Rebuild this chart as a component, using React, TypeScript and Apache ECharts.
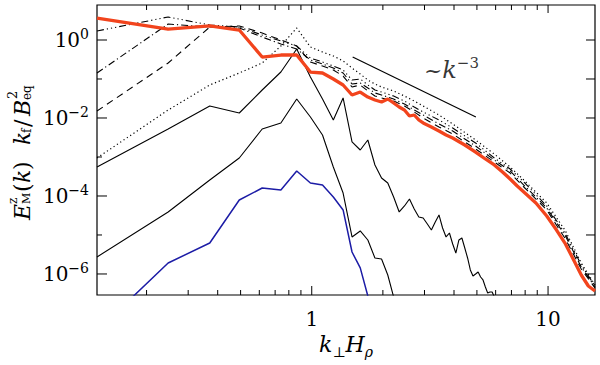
import { useEffect, useRef } from 'react';
import * as echarts from 'echarts';

// wavenumbers k_perp H_rho (modes 1..49, then 52..128)
const K = [
  0.1234, 0.2468, 0.3702, 0.4936, 0.617, 0.7404, 0.8638, 0.9872, 1.1106, 1.234,
  1.3574, 1.4808, 1.6042, 1.7276, 1.851, 1.9744, 2.0978, 2.2212, 2.3446, 2.468,
  2.5914, 2.7148, 2.8382, 2.9616, 3.085, 3.2084, 3.3318, 3.4552, 3.5786, 3.702,
  3.8254, 3.9488, 4.0722, 4.1956, 4.319, 4.4424, 4.5658, 4.6892, 4.8126, 4.936,
  5.0594, 5.1828, 5.3062, 5.4296, 5.553, 5.6764, 5.7998, 5.9232, 6.0466,
  6.4168, 6.9104, 7.404, 7.8976, 8.8848, 9.872, 10.8592, 11.8464, 12.8336, 13.8208, 14.808, 15.7952,
];

const E_RED = [
  3.66, 1.91, 2.29, 1.80, 0.366, 0.412, 0.412, 0.151, 0.1426, 0.100,
  0.0702, 0.0389, 0.0464, 0.0345, 0.0290, 0.0257, 0.0307, 0.0243, 0.0191, 0.0160,
  0.01125, 0.01194, 0.00889, 0.00745, null, 0.00588, null, 0.00464, null, 0.00366,
  null, 0.00307, null, null, null, 0.00203, null, null, null, 0.00134,
  null, null, null, 0.000889, null, null, null, 0.000624, null,
  0.000412, 0.000273, 0.000180, 0.000127, 6.62e-5, 3.07e-5, 1.34e-5, 5.88e-6, 2.29e-6, 9.42e-7, 4.92e-7, 3.66e-7,
];

const E_DOTTED = [
  9.42e-4, 0.0160, 0.0702, 0.1426, 0.257, 0.702, 2.03, 0.662, 0.492, 0.389,
  0.290, 0.191, 0.134, 0.0942, 0.0744, 0.0624, null, 0.0492, null, 0.0366,
  null, 0.0273, null, 0.0203, null, null, null, 0.01194, null, null,
  null, 0.00702, null, null, null, null, null, null, null, 0.00273,
  null, null, null, null, null, null, null, 0.00119, null,
  null, 5.54e-4, null, 2.57e-4, null, 6.62e-5, null, 1.27e-5, null, 1.91e-6, null, 5.22e-7,
];

const E_DASH3DOT = [
  1.70, 3.89, 2.43, 2.15, 1.34, 0.943, 0.702, 0.345, 0.273, 0.215,
  0.170, 0.0942, 0.100, 0.0702, 0.0522, 0.0464, null, 0.0366, null, 0.0273,
  null, 0.0191, null, 0.01426, null, null, null, 0.00889, null, null,
  null, 0.00554, null, null, null, null, null, null, null, 0.00229,
  null, null, null, null, null, null, null, 9.42e-4, null,
  null, 4.92e-4, null, 2.29e-4, null, 5.54e-5, null, 1.06e-5, null, 1.70e-6, null, 4.92e-7,
];

const E_DASHDOT = [
  0.1426, 2.57, 2.15, 2.03, 1.19, 0.789, 0.588, 0.307, 0.243, 0.191,
  0.1426, 0.0744, 0.0789, 0.0588, 0.0438, 0.0389, null, 0.0307, null, 0.0229,
  null, 0.0160, null, 0.01194, null, null, null, 0.00702, null, null,
  null, 0.00464, null, null, null, null, null, null, null, 0.00191,
  null, null, null, null, null, null, null, 8.38e-4, null,
  null, 4.38e-4, null, 1.91e-4, null, 4.92e-5, null, 9.42e-6, null, 1.51e-6, null, 4.64e-7,
];

const E_DASHED = [
  0.0151, 0.257, 2.15, 2.29, 1.51, 1.0, 0.702, 0.273, 0.215, 0.170,
  0.119, 0.0624, 0.0702, 0.0492, 0.0366, 0.0326, null, 0.0273, null, 0.0203,
  null, 0.01426, null, 0.0100, null, null, null, 0.00588, null, null,
  null, 0.00389, null, null, null, null, null, null, null, 0.00160,
  null, null, null, null, null, null, null, 7.44e-4, null,
  null, 3.89e-4, null, 1.70e-4, null, 4.38e-5, null, 7.89e-6, null, 1.34e-6, null, 4.38e-7,
];

const E_SOLID1 = [
  5.54e-4, 5.22e-3, 0.0203, 0.01343, 0.0522, 0.151, 0.588, 0.1125, 0.0307, 0.00889,
  0.0326, 0.00243, 0.00151, 0.00273, 6.24e-4, 2.90e-4, 2.15e-4, 9.42e-5, 3.89e-5, 5.54e-5,
  8.38e-5, 4.64e-5, 2.90e-5, 2.73e-5, 1.91e-5, 1.34e-5, 2.15e-5, 3.26e-5, 1.51e-5, 8.89e-6,
  1.125e-5, 5.88e-6, 3.45e-6, 7.44e-6, 8.38e-6, 4.64e-6, 2.57e-6, 1.27e-6, 8.89e-7, 1.0e-6,
  1.125e-6, 8.38e-7, 7.02e-7, 4.64e-7, 3.26e-7, 3.45e-7, 3.45e-7, 2.57e-7, 1.19e-7,
];

const E_SOLID2 = [
  2.73e-6, 3.89e-5, 2.57e-4, 9.42e-4, 5.22e-3, 7.45e-3, 0.0307, 0.0106, 3.66e-3, 5.54e-4,
  1.19e-4, 8.89e-6, 1.27e-5, 7.44e-6, 2.57e-6, 2.43e-6, 9.42e-7, 2.57e-7, 1.0e-7,
];

const E_BLUE = [
  3.45e-8, 1.91e-6, 6.24e-6, 7.89e-5, 1.60e-4, 1.43e-4, 4.38e-4, 2.15e-4, 1.91e-4, 9.42e-5,
  4.38e-5, 3.66e-6, 1.43e-6, 2.73e-7,
];

const SLOPE_K = [1.49, 4.95];
const SLOPE_E = [0.366, 0.0106];
const SLOPE_LABEL_K = [3.9];
const SLOPE_LABEL_E = [0.17];

const X_MIN = 0.1234;
const X_MAX = 15.8;
const Y_MIN = 2.89e-7;
const Y_MAX = 7.9;

const X_MAJOR_TICKS = [1, 10];
const X_MINOR_TICKS = [0.2, 0.3, 0.4, 0.5, 0.6, 0.7, 0.8, 0.9, 2, 3, 4, 5, 6, 7, 8, 9];
const Y_TICKS = [1e-6, 1e-5, 1e-4, 1e-3, 1e-2, 1e-1, 1];

const FONT = '"DejaVu Serif", serif';

function pairs(vals: (number | null)[]) {
  const out: number[][] = [];
  vals.forEach((v, i) => {
    if (v != null) out.push([K[i], v]);
  });
  return out;
}

function lineSeries(name: string, vals: (number | null)[], color: string, width: number, type: any, z = 2) {
  return {
    name,
    type: 'line',
    data: pairs(vals),
    showSymbol: false,
    symbol: 'none',
    clip: true,
    z,
    lineStyle: { color, width, type },
  };
}

function expOf(v: number) {
  const l = Math.log10(v);
  const e = Math.round(l);
  return Math.abs(l - e) < 1e-6 ? e : null;
}

export default function App() {
  const ref = useRef<HTMLDivElement>(null);

  useEffect(() => {
    if (!ref.current) return;
    const chart = echarts.init(ref.current, undefined, { renderer: 'svg' });

    const xTickData = [
      ...X_MAJOR_TICKS.map((v) => [v, 9, 8]),
      ...X_MINOR_TICKS.map((v) => [v, 5, 5]),
    ];
    const yTickData = Y_TICKS.map((v) => {
      const e = expOf(v) as number;
      return [X_MIN, v, e % 2 === 0 ? 10 : 5, 9];
    });

    const tickStyle = { stroke: '#000', lineWidth: 1 };

    const option: any = {
      animation: false,
      backgroundColor: '#fff',
      grid: {
        left: 97,
        right: 5,
        top: 5,
        bottom: 70,
        show: true,
        borderColor: '#000',
        borderWidth: 1.2,
        outerBoundsMode: 'none',
      },
      xAxis: {
        type: 'log',
        min: X_MIN,
        max: X_MAX,
        axisLine: { show: false },
        axisTick: { show: false },
        splitLine: { show: false },
        minorTick: { show: false },
        axisLabel: {
          margin: 14,
          color: '#000',
          fontFamily: FONT,
          fontSize: 20,
          formatter: (v: number) => {
            const e = expOf(v);
            return e == null ? '' : String(Math.pow(10, e));
          },
        },
        name: '{i|k}{sub|⊥}{i|H}{sub|ρ}',
        nameLocation: 'middle',
        nameGap: 32,
        nameTextStyle: {
          color: '#000',
          rich: {
            i: { fontFamily: FONT, fontStyle: 'italic', fontSize: 22, lineHeight: 28, color: '#000' },
            sub: { fontFamily: FONT, fontStyle: 'italic', fontSize: 14, verticalAlign: 'bottom', lineHeight: 15, color: '#000' },
          },
        },
      },
      yAxis: {
        type: 'log',
        min: Y_MIN,
        max: Y_MAX,
        axisLine: { show: false },
        axisTick: { show: false },
        splitLine: { show: false },
        minorTick: { show: false },
        axisLabel: {
          margin: 8,
          color: '#000',
          formatter: (v: number) => {
            const e = expOf(v);
            if (e == null || e % 2 !== 0) return '';
            const s = e < 0 ? '−' + String(-e) : String(e);
            return '{b|10}{s|' + s + '}';
          },
          rich: {
            b: { fontFamily: FONT, fontSize: 20, lineHeight: 26, color: '#000' },
            s: { fontFamily: FONT, fontSize: 14, lineHeight: 14, verticalAlign: 'top', color: '#000' },
          },
        },
      },
      graphic: [
        {
          type: 'group',
          x: 29,
          y: 220,
          rotation: Math.PI / 2,
          silent: true,
          children: [
            { type: 'text', x: 0, y: -7, style: { text: 'E', font: `italic 22px ${FONT}`, fill: '#000', verticalAlign: 'middle' } },
            { type: 'text', x: 16, y: -16, style: { text: 'z', font: `12px ${FONT}`, fill: '#000', verticalAlign: 'middle' } },
            { type: 'text', x: 16, y: -3, style: { text: 'M', font: `11px ${FONT}`, fill: '#000', verticalAlign: 'middle' } },
            { type: 'text', x: 28, y: -7, style: { text: '(', font: `22px ${FONT}`, fill: '#000', verticalAlign: 'middle' } },
            { type: 'text', x: 37, y: -7, style: { text: 'k', font: `italic 22px ${FONT}`, fill: '#000', verticalAlign: 'middle' } },
            { type: 'text', x: 50, y: -7, style: { text: ')', font: `22px ${FONT}`, fill: '#000', verticalAlign: 'middle' } },
            { type: 'text', x: 75, y: -7, style: { text: 'k', font: `italic 22px ${FONT}`, fill: '#000', verticalAlign: 'middle' } },
            { type: 'text', x: 87, y: -2, style: { text: 'f', font: `12px ${FONT}`, fill: '#000', verticalAlign: 'middle' } },
            { type: 'text', x: 93, y: -7, style: { text: '/', font: `22px ${FONT}`, fill: '#000', verticalAlign: 'middle' } },
            { type: 'text', x: 104, y: -7, style: { text: 'B', font: `italic 22px ${FONT}`, fill: '#000', verticalAlign: 'middle' } },
            { type: 'text', x: 121, y: -17, style: { text: '2', font: `13px ${FONT}`, fill: '#000', verticalAlign: 'middle' } },
            { type: 'text', x: 120, y: -2, style: { text: 'eq', font: `12px ${FONT}`, fill: '#000', verticalAlign: 'middle' } },
          ],
        },
      ],
      series: [
        lineSeries('dotted', E_DOTTED, '#000', 1.2, [1.2, 2.8]),
        lineSeries('dash3dot', E_DASH3DOT, '#000', 1.1, [7, 3, 1.2, 3, 1.2, 3, 1.2, 3]),
        lineSeries('dashdot', E_DASHDOT, '#000', 1.1, [7, 3, 1.2, 3]),
        lineSeries('dashed', E_DASHED, '#000', 1.1, [7, 5]),
        lineSeries('solid1', E_SOLID1, '#000', 1.1, 'solid'),
        lineSeries('solid2', E_SOLID2, '#000', 1.1, 'solid'),
        lineSeries('blue', E_BLUE, '#1c1ca6', 1.5, 'solid'),
        lineSeries('red', E_RED, '#f2441d', 3.3, 'solid', 5),
        {
          name: 'slope',
          type: 'line',
          data: SLOPE_K.map((k, i) => [k, SLOPE_E[i]]),
          showSymbol: false,
          symbol: 'none',
          lineStyle: { color: '#000', width: 1.2 },
        },
        {
          name: 'slopeLabel',
          type: 'scatter',
          data: SLOPE_LABEL_K.map((k, i) => [k, SLOPE_LABEL_E[i]]),
          symbol: 'circle',
          symbolSize: 1,
          itemStyle: { color: 'rgba(0,0,0,0)' },
          z: 6,
          label: {
            show: true,
            position: 'inside',
            color: '#000',
            formatter: '{t|~}{k|k}{s|−3}',
            rich: {
              t: { fontFamily: FONT, fontSize: 22, lineHeight: 30, color: '#000' },
              k: { fontFamily: FONT, fontStyle: 'italic', fontSize: 24, lineHeight: 30, color: '#000' },
              s: { fontFamily: FONT, fontSize: 15, lineHeight: 15, verticalAlign: 'top', color: '#000' },
            },
          },
          silent: true,
        },
        {
          name: 'xticks',
          type: 'custom',
          silent: true,
          clip: false,
          z: 10,
          data: xTickData,
          renderItem: (params: any, api: any) => {
            const v = api.value(0);
            const lb = api.value(1);
            const lt = api.value(2);
            const b = api.coord([v, Y_MIN]);
            const t = api.coord([v, Y_MAX]);
            return {
              type: 'group',
              children: [
                { type: 'line', shape: { x1: b[0], y1: b[1], x2: b[0], y2: b[1] - lb }, style: tickStyle },
                { type: 'line', shape: { x1: t[0], y1: t[1], x2: t[0], y2: t[1] + lt }, style: tickStyle },
              ],
            };
          },
        },
        {
          name: 'yticks',
          type: 'custom',
          silent: true,
          clip: false,
          z: 10,
          data: yTickData,
          renderItem: (params: any, api: any) => {
            const v = api.value(1);
            const ll = api.value(2);
            const lr = api.value(3);
            const l = api.coord([X_MIN, v]);
            const r = api.coord([X_MAX, v]);
            return {
              type: 'group',
              children: [
                { type: 'line', shape: { x1: l[0], y1: l[1], x2: l[0] + ll, y2: l[1] }, style: tickStyle },
                { type: 'line', shape: { x1: r[0] - lr, y1: r[1], x2: r[0], y2: r[1] }, style: tickStyle },
              ],
            };
          },
        },
      ],
    };

    chart.setOption(option);
    return () => chart.dispose();
  }, []);

  return (
    <div
      ref={ref}
      style={{ position: 'fixed', left: 0, top: 0, width: 600, height: 365, background: '#fff' }}
    />
  );
}
